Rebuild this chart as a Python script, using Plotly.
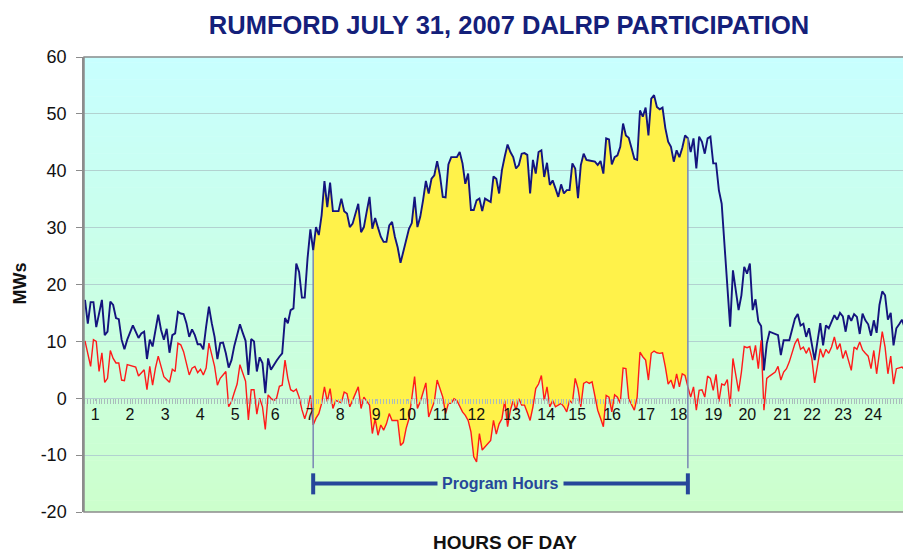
import plotly.graph_objects as go

# ---------------- data (5-minute readings, MW) ----------------
BLUE = [
    17.3, 13.1, 16.9, 16.9, 12.5, 14.8, 17.3, 11.1, 11.7, 17.0, 16.4, 14.1,
    13.9, 10.3, 8.6, 10.3, 11.6, 12.8, 11.7, 10.6, 11.4, 11.7, 6.9, 10.3,
    9.1, 12.0, 14.7, 12.0, 10.3, 12.2, 8.0, 11.1, 11.4, 15.2, 14.9, 14.8,
    13.2, 10.8, 12.1, 11.1, 9.5, 9.5, 8.6, 12.6, 16.1, 13.2, 10.8, 6.9,
    9.7, 9.8, 7.9, 5.4, 6.7, 9.2, 11.4, 13.0, 11.5, 10.1, 4.1, 10.4,
    10.0, 4.7, 7.2, 6.2, 0.9, 7.0, 5.0, 5.9, 6.6, 7.3, 7.9, 14.1,
    13.2, 15.5, 15.8, 23.7, 22.2, 17.7, 17.7, 24.6, 29.7, 26.0, 30.1, 28.7,
    32.2, 38.2, 33.6, 37.9, 32.9, 32.9, 32.9, 35.1, 32.9, 32.5, 30.1, 30.7,
    32.4, 34.2, 29.2, 30.1, 32.8, 35.4, 29.8, 31.7, 30.0, 28.4, 27.5, 27.5,
    30.4, 31.0, 28.4, 26.5, 23.8, 25.7, 28.0, 29.8, 30.8, 35.4, 30.1, 31.9,
    34.8, 38.2, 36.0, 38.6, 39.2, 41.7, 39.2, 35.4, 35.3, 41.1, 42.4, 42.4,
    42.4, 43.3, 41.3, 37.7, 39.5, 33.1, 33.1, 34.8, 35.1, 32.9, 35.1, 34.8,
    34.5, 39.0, 38.6, 36.0, 40.1, 42.5, 44.6, 43.3, 42.4, 40.4, 41.0, 43.0,
    43.1, 42.8, 36.0, 41.9, 39.5, 43.3, 43.6, 38.9, 41.4, 37.5, 38.3, 36.9,
    35.4, 37.6, 36.0, 36.6, 36.6, 41.3, 40.4, 35.2, 41.0, 43.0, 41.9, 41.8,
    41.7, 41.6, 41.0, 41.7, 39.5, 45.7, 45.5, 41.1, 42.4, 42.7, 44.2, 48.3,
    46.2, 45.8, 44.0, 42.1, 41.9, 50.6, 49.5, 51.1, 46.2, 52.7, 53.3, 51.2,
    50.8, 51.1, 47.5, 45.1, 44.2, 41.6, 43.6, 42.4, 44.0, 46.2, 45.7, 43.3,
    45.7, 40.4, 46.0, 45.1, 43.0, 45.7, 46.0, 41.3, 41.3, 36.6, 34.2, 26.6,
    20.8, 12.6, 22.5, 18.7, 15.5, 18.1, 23.1, 21.9, 23.7, 15.5, 17.4, 13.5,
    12.7, 4.9, 9.6, 11.7, 11.5, 11.4, 11.1, 7.6, 10.2, 10.2, 10.2, 12.1,
    14.0, 14.8, 12.8, 13.1, 10.8, 12.3, 9.6, 6.7, 10.0, 13.2, 9.3, 12.8,
    12.3, 13.5, 14.6, 13.8, 15.0, 14.4, 11.7, 14.6, 13.6, 14.8, 14.3, 11.3,
    14.9, 13.7, 13.0, 11.0, 13.7, 11.5, 16.4, 18.8, 18.1, 13.8, 15.0, 9.3,
    12.3, 13.0, 13.8, 12.3, 14.6, 16.4,
]

RED = [
    10.1, 7.8, 5.6, 10.3, 10.0, 4.7, 8.0, 2.8, 3.5, 8.4, 7.0, 6.2,
    6.2, 3.2, 3.1, 5.9, 5.8, 5.7, 5.5, 3.9, 4.4, 5.0, 1.5, 5.6,
    2.3, 5.3, 7.4, 5.5, 3.8, 3.3, 2.8, 5.1, 4.7, 9.7, 9.4, 8.2,
    6.2, 4.1, 5.3, 5.6, 4.5, 5.1, 4.1, 5.3, 9.7, 7.5, 5.6, 2.3,
    3.5, 4.1, 4.7, -1.5, -0.6, 1.0, 2.5, 5.9, 4.5, 3.0, -3.8, 1.5,
    1.5, -2.8, 0.0, -1.5, -5.5, 0.6, 0.0, -0.4, 0.0, 2.1, 2.3, 6.7,
    3.5, 1.5, 1.2, 1.6, 0.2, -2.0, -3.6, -2.0, 0.5, -4.7, -3.5, -2.7,
    -0.9, 2.0, -0.6, 1.7, -1.8, -0.4, -0.6, -0.8, 1.1, 0.8, -1.5, -0.4,
    0.8, 2.0, -1.8, 0.2, -0.5, -1.2, -6.2, -3.6, -6.5, -4.7, -5.6, -4.5,
    -2.7, -3.9, -3.9, -3.9, -8.3, -7.8, -5.3, -3.6, 0.0, 3.8, -1.8, -0.6,
    1.0, 2.7, -3.3, -1.8, -0.6, 3.2, 1.7, 0.2, -2.7, -0.9, -0.9, -0.1,
    -0.4, -1.5, -2.4, -3.0, -3.9, -5.9, -10.3, -11.2, -6.2, -9.1, -8.5, -8.0,
    -7.4, -3.9, -6.3, -4.5, -3.6, -0.4, -5.0, -2.1, -0.4, -2.1, -0.1, -1.2,
    -1.2, -2.5, -3.9, -1.5, 1.7, 2.5, 4.0, -0.4, 2.0, -1.5, -0.4, -1.5,
    -1.2, -0.9, -1.5, -2.4, -0.4, -0.9, 3.5, 1.7, -1.5, 2.6, 2.9, 2.6,
    2.9, 0.2, -2.1, -3.5, -5.0, 0.5, 0.2, -2.4, 0.6, 0.2, -0.9, 5.3,
    5.2, -0.1, -1.0, -2.1, 0.2, 8.1, 7.3, 6.7, 3.2, 7.9, 8.3, 8.0,
    7.9, 8.0, 5.5, 2.5, 3.2, 1.7, 4.3, 2.0, 4.3, 4.0, 2.0, 0.2,
    2.0, -2.1, 1.4, 1.5, 0.2, 3.9, 3.5, 1.4, 4.2, -0.6, 2.5, 2.3,
    3.3, -1.5, 7.0, 4.3, 1.2, 4.6, 9.1, 8.9, 9.1, 6.7, 9.3, 5.2,
    10.2, -2.1, 3.5, 3.9, 4.2, 4.6, 5.6, 3.2, 4.6, 5.2, 6.4, 8.0,
    9.6, 10.5, 8.6, 9.0, 7.9, 8.9, 7.0, 2.7, 5.7, 8.7, 7.2, 8.6,
    7.9, 9.0, 10.8, 8.6, 9.6, 7.0, 8.4, 6.5, 4.9, 9.0, 8.6, 9.9,
    8.5, 7.9, 7.4, 5.2, 8.4, 4.3, 8.0, 11.7, 9.0, 4.3, 7.4, 2.5,
    5.2, 5.3, 5.5, 4.9, 7.3, 8.6,
]

assert len(BLUE) == len(RED) == 294

HOUR_LABELS = [str(h) for h in range(1, 25)]
HOUR_POS = [3.6, 16.0, 28.5, 40.9, 53.3, 67.5, 79.9, 90.6, 103.4, 114.4, 126.4, 138.9,
            151.6, 163.7, 174.7, 187.1, 199.2, 210.7, 223.1, 235.1, 247.5, 258.1, 269.1, 279.8]

Y_TICKS = [-20, -10, 0, 10, 20, 30, 40, 50, 60]
Y_TICK_TEXT = ["-20", "-10", "0", "10", "20", "30", "40", "50", "60"]

PROGRAM_START = 81
PROGRAM_END = 214
PROGRAM_LABEL = "Program Hours"

TITLE = "RUMFORD JULY 31, 2007 DALRP PARTICIPATION"
Y_TITLE = "MWs"
X_TITLE = "HOURS OF DAY"

# ---------------- styling ----------------
FONT = "Liberation Sans, Arial, sans-serif"
NAVY = "#14147e"
RED_C = "#ff1a1a"
YELLOW = "#fff24a"
GRID = "#b2d2d0"
BRACKET = "#26479a"

# page body has an 8px default margin; the figure is sized to fill the rest of the window
W, H = 903, 547

x = list(range(len(BLUE)))
xp = x[PROGRAM_START:PROGRAM_END + 1]

fig = go.Figure()

# Yellow area between the two curves during program hours
fig.add_trace(go.Scatter(x=xp, y=RED[PROGRAM_START:PROGRAM_END + 1], mode="lines",
                         line=dict(width=0, color=YELLOW), hoverinfo="skip", showlegend=False))
fig.add_trace(go.Scatter(x=xp, y=BLUE[PROGRAM_START:PROGRAM_END + 1], mode="lines",
                         line=dict(width=0, color=YELLOW), fill="tonexty", fillcolor=YELLOW,
                         hoverinfo="skip", showlegend=False))

fig.add_trace(go.Scatter(x=x, y=BLUE, mode="lines", line=dict(color=NAVY, width=1.9),
                         showlegend=False, name="Load"))
fig.add_trace(go.Scatter(x=x, y=RED, mode="lines", line=dict(color=RED_C, width=1.4),
                         showlegend=False, name="Reduction"))

# Background gradient (cyan top -> light green bottom)
shapes = []
N = 80
top = (200, 255, 255)
bot = (204, 255, 204)
for k in range(N):
    f = (k + 0.5) / N
    c = tuple(round(top[j] + (bot[j] - top[j]) * f) for j in range(3))
    shapes.append(dict(type="rect", xref="paper", yref="paper", x0=0, x1=1,
                       y0=1 - (k + 1) / N, y1=1 - k / N + 0.001,
                       fillcolor="rgb(%d,%d,%d)" % c, line=dict(width=0), layer="below"))

# Plot frame
shapes.append(dict(type="rect", xref="paper", yref="paper", x0=0, x1=1, y0=0, y1=1,
                   line=dict(color="#8c8c8c", width=1.5), fillcolor="rgba(0,0,0,0)", layer="above"))

# Program start / end drop lines
for idx in (PROGRAM_START, PROGRAM_END):
    shapes.append(dict(type="line", xref="x", yref="y", x0=idx, x1=idx, y0=-12.3, y1=BLUE[idx],
                       line=dict(color="#7a86b4", width=1.5), layer="above"))

# Program hours bracket
shapes.append(dict(type="line", xref="x", yref="y", x0=PROGRAM_START, x1=PROGRAM_END,
                   y0=-15, y1=-15, line=dict(color=BRACKET, width=4), layer="above"))
for idx in (PROGRAM_START, PROGRAM_END):
    shapes.append(dict(type="line", xref="x", yref="y", x0=idx, x1=idx, y0=-13.2, y1=-16.9,
                       line=dict(color=BRACKET, width=4), layer="above"))

annotations = [
    dict(x=(PROGRAM_START + PROGRAM_END) / 2, y=-15, xref="x", yref="y", text="<b>%s</b>" % PROGRAM_LABEL,
         showarrow=False, font=dict(family=FONT, size=16, color=BRACKET),
         bgcolor="rgb(204,255,207)", borderpad=4),
    dict(x=0.509, y=-0.066, xref="paper", yref="paper", text="<b>%s</b>" % X_TITLE,
         showarrow=False, font=dict(family=FONT, size=19, color="#111"), yanchor="middle"),
    dict(x=-0.077, y=0.503, xref="paper", yref="paper", text="<b>%s</b>" % Y_TITLE,
         showarrow=False, textangle=-90, font=dict(family=FONT, size=18, color="#111"),
         xanchor="center", yanchor="middle"),
]

fig.update_layout(
    width=W, height=H,
    margin=dict(l=76, r=0, t=49, b=43),
    paper_bgcolor="white",
    plot_bgcolor="rgba(0,0,0,0)",
    font=dict(family=FONT, color="#111"),
    title=dict(text="<b>%s</b>" % TITLE, x=501 / W, xanchor="center", y=1 - 17 / H, yanchor="middle",
               yref="container", font=dict(family=FONT, size=25.5, color="#14207a")),
    shapes=shapes,
    annotations=annotations,
    showlegend=False,
    xaxis=dict(
        range=[-0.35, 293.2],
        anchor="free", position=0.25,
        tickmode="array", tickvals=HOUR_POS, ticktext=HOUR_LABELS,
        ticks="outside", ticklen=2, tickcolor="#aabcbc", tickwidth=1,
        tickfont=dict(family=FONT, size=16, color="#111"),
        showgrid=False, zeroline=False, showline=False,
        minor=dict(tickmode="linear", tick0=0, dtick=1, ticks="outside", ticklen=5,
                   tickcolor="#aabcbc", tickwidth=1, showgrid=False),
    ),
    yaxis=dict(
        range=[-20, 60],
        tickmode="array", tickvals=Y_TICKS, ticktext=Y_TICK_TEXT,
        showgrid=True, gridcolor=GRID, gridwidth=1,
        zeroline=False, showline=True, linecolor="#8c8c8c", linewidth=1.5,
        ticks="outside", ticklen=6, tickcolor="#8c8c8c",
        ticklabelstandoff=6,
        tickfont=dict(family=FONT, size=18, color="#111"),
    ),
)

fig.write_html("out.html")
